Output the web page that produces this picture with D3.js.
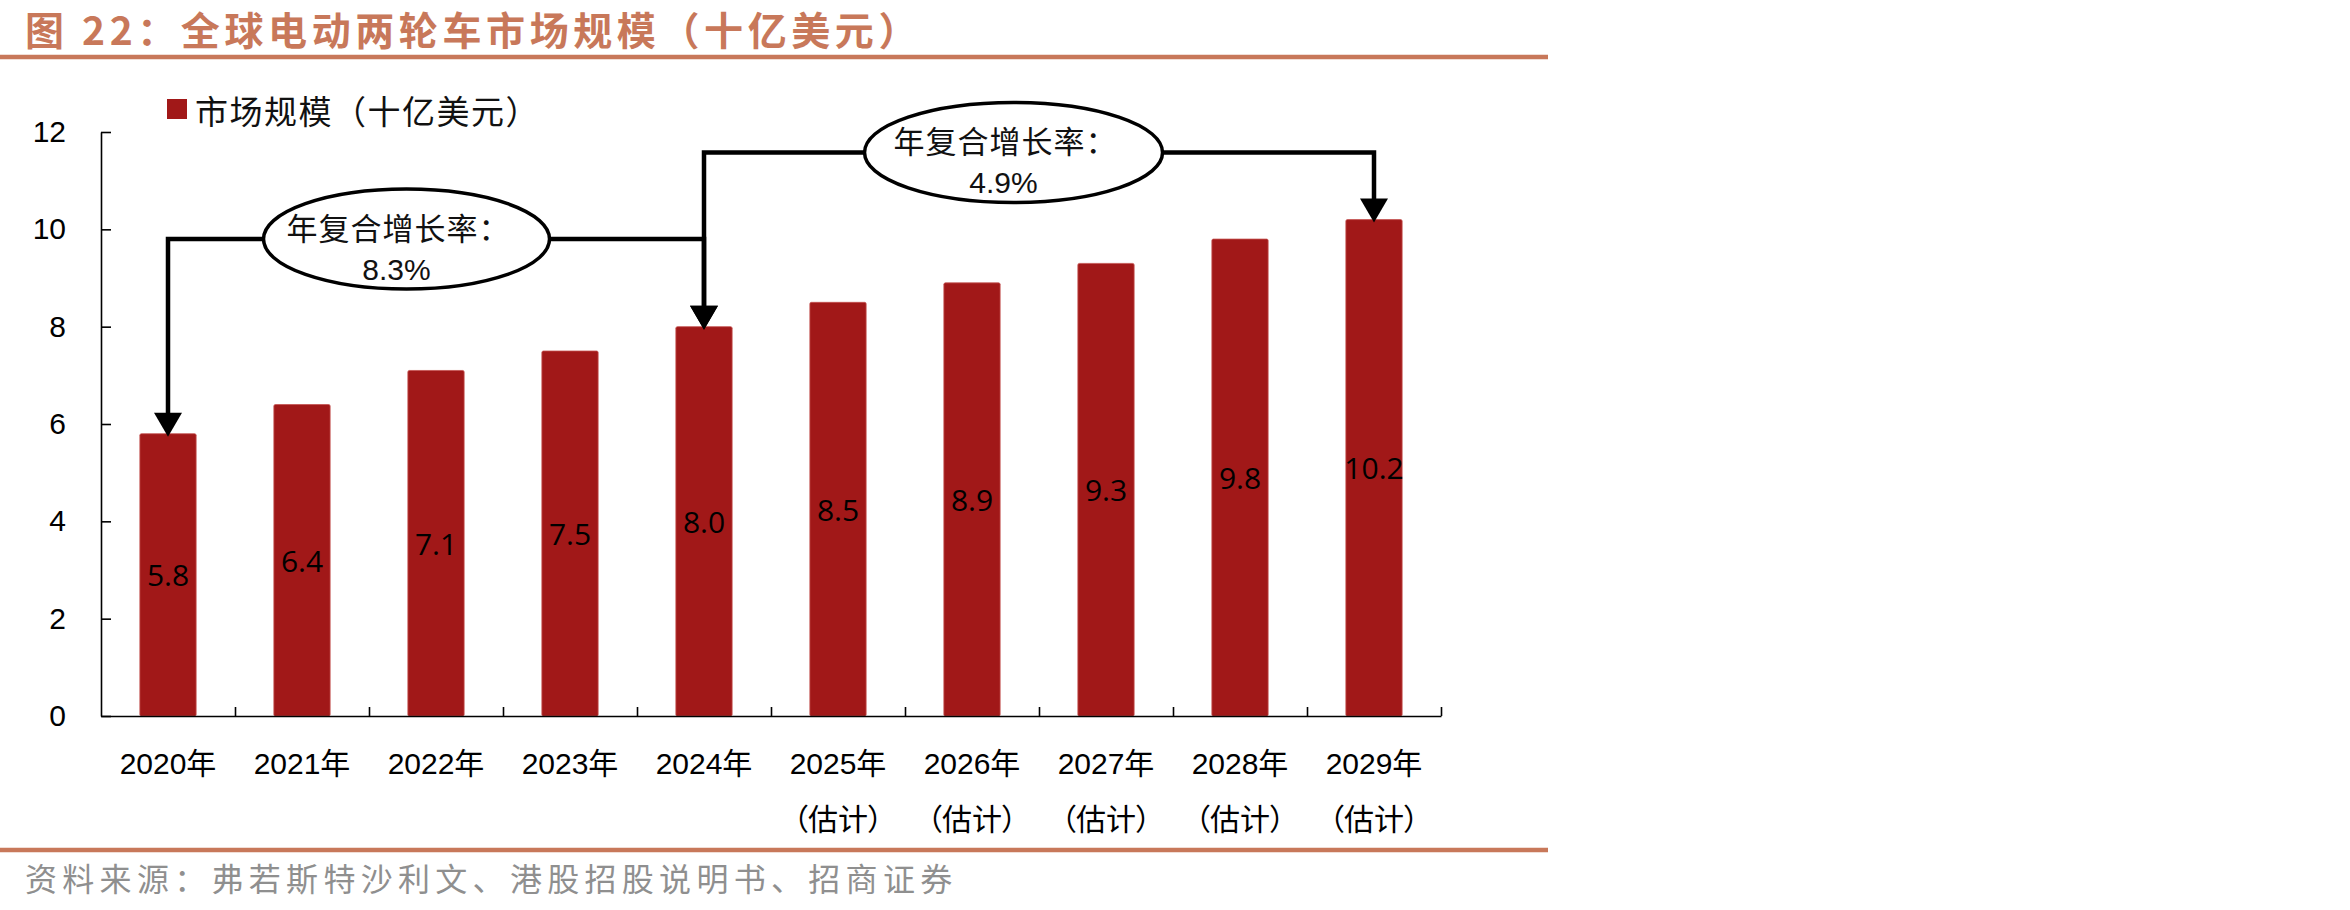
<!DOCTYPE html>
<html>
<head>
<meta charset="utf-8">
<script src="https://cdn.jsdelivr.net/npm/d3@7"></script>
<style>
  body { margin: 0; background: #fff; }
  svg { display: block; }
</style>
</head>
<body>
<div id="chart"></div>
<script>
const years = ['2020年', '2021年', '2022年', '2023年', '2024年', '2025年', '2026年', '2027年', '2028年', '2029年'];
const yearNotes = ['', '', '', '', '', '（估计）', '（估计）', '（估计）', '（估计）', '（估计）'];
const marketSize = [5.8, 6.4, 7.1, 7.5, 8.0, 8.5, 8.9, 9.3, 9.8, 10.2];
const yTicks = [0, 2, 4, 6, 8, 10, 12];

// CAGR callouts: from bar, to bar, height of the connector (axis units), bubble position (band index)
const cagrLabels = ['8.3%', '4.9%'];
const cagrFrom = [0, 4];
const cagrTo = [4, 9];
const cagrLevel = [9.8, 11.58];
const cagrBubbleAt = [2.28, 6.81];

const seriesName = '市场规模（十亿美元）';
const title = '图 22：全球电动两轮车市场规模（十亿美元）';
const source = '资料来源：弗若斯特沙利文、港股招股说明书、招商证券';

const width = 2350;
const height = 910;
const accent = '#c8785a';
const barColor = '#a11818';
const cjk = '"Noto Sans CJK SC", sans-serif';
const latin = '"Liberation Sans", Arial, "Noto Sans CJK SC", sans-serif';

const plotLeft = 101;
const plotRight = 1441;
const plotTop = 132;
const plotBottom = 716;

let svg = d3.select('#chart').append('svg')
  .attr('width', width)
  .attr('height', height)

svg.append('rect')
  .attr('width', width)
  .attr('height', height)
  .attr('fill', '#fff')

// header + footer
svg.append('text')
  .attr('x', 25)
  .attr('y', 45)
  .attr('fill', accent)
  .style('font-family', cjk)
  .style('font-weight', 700)
  .style('font-size', '39px')
  .style('letter-spacing', '4.6px')
  .text(title)

svg.append('line')
  .attr('x1', 0).attr('x2', 1548)
  .attr('y1', 57).attr('y2', 57)
  .attr('stroke', accent)
  .attr('stroke-width', 4.5)

svg.append('line')
  .attr('x1', 0).attr('x2', 1548)
  .attr('y1', 850).attr('y2', 850)
  .attr('stroke', accent)
  .attr('stroke-width', 4.5)

svg.append('text')
  .attr('x', 25)
  .attr('y', 877)
  .attr('dominant-baseline', 'central')
  .attr('fill', '#8f8f8f')
  .style('font-family', cjk)
  .style('font-size', '32px')
  .style('letter-spacing', '5.3px')
  .text(source)

// scales
let y = d3.scaleLinear()
  .domain([0, 12])
  .range([plotBottom, plotTop])

let x = d3.scaleBand()
  .domain(years)
  .range([plotLeft, plotRight])
  .paddingInner(0.58)
  .paddingOuter(0.29)

let slot = d3.scaleLinear()
  .domain([0, years.length])
  .range([plotLeft, plotRight])

let cx = i => x(years[i]) + x.bandwidth() / 2;

// bars
svg.append('g')
  .selectAll('rect')
  .data(marketSize)
  .join('rect')
    .attr('x', (d, i) => x(years[i]))
    .attr('width', x.bandwidth())
    .attr('y', d => y(d))
    .attr('height', d => y(0) - y(d))
    .attr('rx', 1.5)
    .attr('fill', barColor)
    .attr('stroke', '#c4504f')
    .attr('stroke-width', 0.8)

svg.append('g')
  .selectAll('text')
  .data(marketSize)
  .join('text')
    .attr('x', (d, i) => cx(i))
    .attr('y', d => (y(d) + y(0)) / 2)
    .attr('text-anchor', 'middle')
    .attr('dominant-baseline', 'central')
    .attr('fill', '#000')
    .style('font-family', '"Open Sans", sans-serif')
    .style('font-size', '30px')
    .text(d => d.toFixed(1))

// axes
let yAxis = svg.append('g')
  .attr('transform', `translate(${plotLeft},0)`)
  .call(d3.axisLeft(y).tickValues(yTicks).tickSizeInner(-10).tickSizeOuter(0).tickPadding(35))

yAxis.selectAll('text')
  .style('font-family', latin)
  .style('font-size', '30px')
  .attr('fill', '#000')

let xAxis = svg.append('g')
  .attr('transform', `translate(0,${plotBottom})`)
  .call(d3.axisBottom(slot).tickValues(d3.range(1, years.length + 1)).tickSizeInner(-9).tickSizeOuter(0).tickFormat(''))

svg.selectAll('.domain, .tick line')
  .attr('stroke', '#000')
  .attr('stroke-width', 1.6)

svg.append('g')
  .selectAll('text')
  .data(years)
  .join('text')
    .attr('x', (d, i) => cx(i))
    .attr('y', 763)
    .attr('text-anchor', 'middle')
    .attr('dominant-baseline', 'central')
    .style('font-family', latin)
    .style('font-size', '30px')
    .text(d => d)

svg.append('g')
  .selectAll('text')
  .data(yearNotes)
  .join('text')
    .attr('x', (d, i) => cx(i))
    .attr('y', 817)
    .attr('text-anchor', 'middle')
    .attr('dominant-baseline', 'central')
    .style('font-family', cjk)
    .style('font-size', '30px')
    .style('font-feature-settings', '"palt"')
    .text(d => d)

// legend
svg.append('rect')
  .attr('x', 167)
  .attr('y', 99)
  .attr('width', 20)
  .attr('height', 20)
  .attr('fill', barColor)

svg.append('text')
  .attr('x', 195)
  .attr('y', 110)
  .attr('dominant-baseline', 'central')
  .style('font-family', cjk)
  .style('font-size', '33px')
  .style('letter-spacing', '1.5px')
  .attr('fill', '#111')
  .text(seriesName)

// CAGR callouts
const headW = 28;
const headH = 24;

let callouts = svg.append('g')

cagrLabels.forEach((label, k) => {
  let a = cagrFrom[k], b = cagrTo[k];
  let lv = y(cagrLevel[k]);
  let tipA = y(marketSize[a]) + 3;
  let tipB = y(marketSize[b]) + 3;

  callouts.append('path')
    .attr('d', `M${cx(a)},${tipA - headH + 2}V${lv}H${cx(b)}V${tipB - headH + 2}`)
    .attr('fill', 'none')
    .attr('stroke', '#000')
    .attr('stroke-width', 4.5)

  ;[[a, tipA], [b, tipB]].forEach(([i, tip]) => {
    callouts.append('path')
      .attr('d', `M${cx(i) - headW / 2},${tip - headH}L${cx(i) + headW / 2},${tip - headH}L${cx(i)},${tip}Z`)
      .attr('fill', '#000')
  })
})

cagrLabels.forEach((label, k) => {
  let bx = slot(cagrBubbleAt[k]);
  let by = y(cagrLevel[k]);

  callouts.append('ellipse')
    .attr('cx', bx)
    .attr('cy', by)
    .attr('rx', k === 0 ? 143 : 149)
    .attr('ry', 50)
    .attr('fill', '#fff')
    .attr('stroke', '#000')
    .attr('stroke-width', 3.5)

  callouts.append('text')
    .attr('x', bx - 8)
    .attr('y', by - 13)
    .attr('text-anchor', 'middle')
    .attr('dominant-baseline', 'central')
    .style('font-family', cjk)
    .style('font-size', '31px')
    .style('letter-spacing', '1px')
    .attr('fill', '#111')
    .text('年复合增长率：')

  callouts.append('text')
    .attr('x', bx - 10)
    .attr('y', by + 30)
    .attr('text-anchor', 'middle')
    .attr('dominant-baseline', 'central')
    .style('font-family', latin)
    .style('font-size', '30px')
    .attr('fill', '#111')
    .text(label)
})
</script>
</body>
</html>
